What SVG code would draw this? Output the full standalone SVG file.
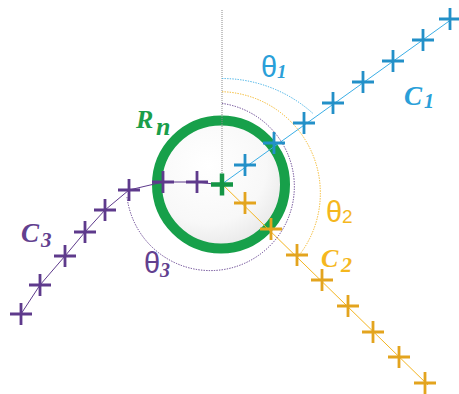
<svg xmlns="http://www.w3.org/2000/svg" xmlns:xlink="http://www.w3.org/1999/xlink" width="459" height="394" viewBox="0 0 459 394">
<style>
.ln{fill:none;stroke-width:1}
.dot{fill:none;stroke-width:1;stroke-dasharray:1.3 1.3}
.b{stroke:#3aaee6}
.y{stroke:#f4b521}
.p{stroke:#5e3a8c}
.xb{stroke:#2390c8;stroke-width:2.8}
.xy{stroke:#e3a41e;stroke-width:2.8}
.xp{stroke:#5e3a8c;stroke-width:2.8}
.th{font-family:"Liberation Sans",Arial,sans-serif;font-size:29px}
.ci{font-family:"Liberation Serif","Times New Roman",serif;font-style:italic;font-weight:bold}
.si{font-family:"Liberation Serif","Times New Roman",serif;font-style:italic;font-weight:bold}
.tb{fill:#2a9fd9}.ty{fill:#f5b71e}.tp{fill:#62408f}.tg{fill:#1a9e4a}
</style>
<defs>
<path id="x" d="M-11,0H11M0,-11V11" fill="none"/>
<radialGradient id="disc" cx="0.4" cy="0.35" r="0.7">
<stop offset="0" stop-color="#ffffff"/>
<stop offset="0.65" stop-color="#f8f8f8"/>
<stop offset="1" stop-color="#e6e6e6"/>
</radialGradient>
</defs>

<g id="ring">
<circle cx="221" cy="184.5" r="64" fill="url(#disc)" stroke="#17a04a" stroke-width="10"/>
</g>

<g id="connectors">
<line x1="222" y1="10" x2="222" y2="184" fill="none" stroke="#8a8a8a" stroke-width="1" stroke-dasharray="1 1"/>
<path class="ln b" d="M222,184 L452,19"/>
<path class="ln y" d="M222,184 L428,385"/>
<path class="ln p" d="M222,185 L197,182 L163,182 L129,190 L105,210 L85,232 L65,256 L40,285 L21,314" stroke-linejoin="round" stroke-width="1.2"/>
<path class="dot b" d="M222,78.5 A136,136 0 0 1 313,113.5"/>
<path class="dot y" d="M222,91.7 A101.5,101.5 0 0 1 298,256.7"/>
<path class="dot p" d="M222,103.4 A84,84 0 1 1 127,197"/>
</g>

<g id="c1">
<use xlink:href="#x" class="xb" x="245" y="165"/>
<use xlink:href="#x" class="xb" x="274" y="143"/>
<use xlink:href="#x" class="xb" x="304" y="123"/>
<use xlink:href="#x" class="xb" x="333" y="103"/>
<use xlink:href="#x" class="xb" x="363" y="82"/>
<use xlink:href="#x" class="xb" x="393" y="61"/>
<use xlink:href="#x" class="xb" x="423" y="40"/>
<use xlink:href="#x" class="xb" x="450" y="19"/>
<text class="ci tb" x="404" y="105" font-size="27">C<tspan font-size="20" x="424" y="108">1</tspan></text>
</g>

<g id="c2">
<use xlink:href="#x" class="xy" x="245" y="203"/>
<use xlink:href="#x" class="xy" x="271" y="229"/>
<use xlink:href="#x" class="xy" x="297" y="255"/>
<use xlink:href="#x" class="xy" x="322" y="280"/>
<use xlink:href="#x" class="xy" x="348" y="306"/>
<use xlink:href="#x" class="xy" x="373" y="332"/>
<use xlink:href="#x" class="xy" x="399" y="357"/>
<use xlink:href="#x" class="xy" x="425" y="383"/>
<text class="ci ty" x="321" y="267" font-size="26">C<tspan font-size="22" x="341" y="272">2</tspan></text>
</g>

<g id="c3">
<use xlink:href="#x" class="xp" x="197" y="182"/>
<use xlink:href="#x" class="xp" x="163" y="182"/>
<use xlink:href="#x" class="xp" x="129" y="190"/>
<use xlink:href="#x" class="xp" x="105" y="210"/>
<use xlink:href="#x" class="xp" x="85" y="232"/>
<use xlink:href="#x" class="xp" x="65" y="256"/>
<use xlink:href="#x" class="xp" x="40" y="285"/>
<use xlink:href="#x" class="xp" x="21" y="314"/>
<text class="ci tp" x="21" y="242" font-size="27">C<tspan font-size="21" x="41" y="247">3</tspan></text>
</g>

<g id="center">
<use xlink:href="#x" x="222" y="184.5" stroke="#149545" stroke-width="4.5"/>
<text class="ci tg" x="136" y="128" font-size="26">R<tspan x="156" y="135">n</tspan></text>
</g>

<g id="angles">
<text class="th tb" x="261" y="77">θ<tspan class="si" font-size="19" x="277" y="78">1</tspan></text>
<text class="th ty" x="326" y="222">θ<tspan font-size="19" x="342" y="223">2</tspan></text>
<text class="th tp" x="144" y="273">θ<tspan class="si" font-size="20" x="160" y="277">3</tspan></text>
</g>
</svg>
